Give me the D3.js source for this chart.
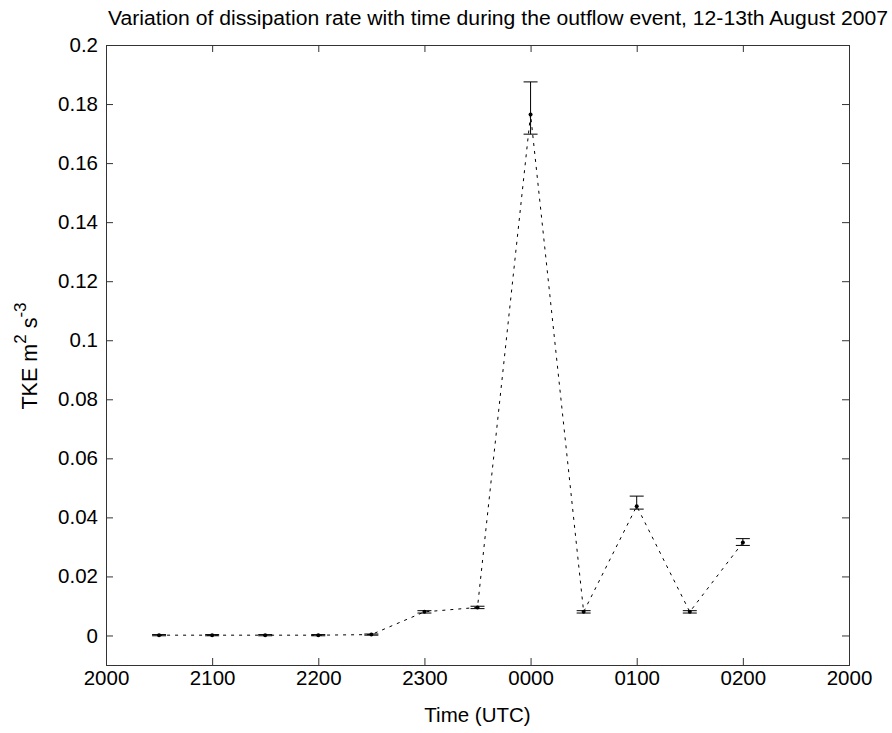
<!DOCTYPE html>
<html>
<head>
<meta charset="utf-8">
<script src="https://cdn.jsdelivr.net/npm/d3@7"></script>
<style>
  body { margin: 0; background: #fff; }
  text { font-family: "Liberation Sans", Arial, sans-serif; fill: #000; }
</style>
</head>
<body>
<svg id="chart"></svg>
<script>
// hours after 20:00 on 12 Aug (24 = 0000 next day)
const times = [20.5, 21, 21.5, 22, 22.5, 23, 23.5, 24, 24.5, 25, 25.5, 26];
const tke = [0.0001, 0.0001, 0.0001, 0.0001, 0.0003, 0.008, 0.0095, 0.1765, 0.008, 0.0438, 0.008, 0.0315];
const errLow = [0.0002, 0.0002, 0.0002, 0.0002, 0.0002, 0.0004, 0.0004, 0.0067, 0.0004, 0.0010, 0.0004, 0.0010];
const errHigh = [0.0002, 0.0002, 0.0002, 0.0002, 0.0002, 0.0004, 0.0004, 0.0110, 0.0004, 0.0034, 0.0004, 0.0013];
const xTickVals = [20, 21, 22, 23, 24, 25, 26, 27];
const xTickLabels = ['2000', '2100', '2200', '2300', '0000', '0100', '0200', '2000'];
const yTickVals = [0, 0.02, 0.04, 0.06, 0.08, 0.1, 0.12, 0.14, 0.16, 0.18, 0.2];

const W = 892, H = 733;
const margin = {top: 45, right: 43, bottom: 68, left: 106};
const width = W - margin.left - margin.right;
const height = H - margin.top - margin.bottom;
const fontSize = 20.5;

const svg = d3.select('#chart').attr('width', W).attr('height', H);
const chart = svg.append('g').attr('transform', `translate(${margin.left},${margin.top})`);

const x = d3.scaleLinear().domain([20, 27]).range([0, width]);
const y = d3.scaleLinear().domain([-0.01, 0.2]).range([height, 0]);

const data = times.map((t, i) => ({t, v: tke[i], lo: tke[i] - errLow[i], hi: tke[i] + errHigh[i]}));

// Axes, MATLAB style: inward ticks on all four sides
const tickLen = 7;
const xAxis = d3.axisBottom(x).tickValues(xTickVals).tickSize(-tickLen).tickPadding(5)
    .tickFormat((d, i) => xTickLabels[i]);
const xAxisTop = d3.axisTop(x).tickValues(xTickVals).tickSize(-tickLen).tickFormat('');
const yAxis = d3.axisLeft(y).tickValues(yTickVals).tickSize(-tickLen).tickPadding(8)
    .tickFormat(d => d === 0 ? '0' : String(+d.toFixed(2)));
const yAxisRight = d3.axisRight(y).tickValues(yTickVals).tickSize(-tickLen).tickFormat('');

chart.append('g').attr('transform', `translate(0,${height})`).call(xAxis);
chart.append('g').call(xAxisTop);
chart.append('g').call(yAxis);
chart.append('g').attr('transform', `translate(${width},0)`).call(yAxisRight);

chart.selectAll('.domain').attr('stroke', '#333').attr('stroke-width', 1);
chart.selectAll('.tick line').attr('stroke', '#333');
chart.selectAll('.tick text').attr('font-size', fontSize).attr('font-family', '"Liberation Sans", Arial, sans-serif');

// dotted line through points
chart.append('path')
    .datum(data)
    .attr('fill', 'none')
    .attr('stroke', '#000')
    .attr('stroke-width', 1)
    .attr('stroke-dasharray', '3,5')
    .attr('d', d3.line().x(d => x(d.t)).y(d => y(d.v)));

// error bars
const capW = 7;
const eb = chart.selectAll('.eb').data(data).join('g').attr('class', 'eb');
eb.append('line')
    .attr('x1', d => x(d.t)).attr('x2', d => x(d.t))
    .attr('y1', d => y(d.lo)).attr('y2', d => y(d.hi))
    .attr('stroke', '#000').attr('stroke-width', 1);
eb.append('line')
    .attr('x1', d => x(d.t) - capW).attr('x2', d => x(d.t) + capW)
    .attr('y1', d => y(d.lo)).attr('y2', d => y(d.lo))
    .attr('stroke', '#000').attr('stroke-width', 1);
eb.append('line')
    .attr('x1', d => x(d.t) - capW).attr('x2', d => x(d.t) + capW)
    .attr('y1', d => y(d.hi)).attr('y2', d => y(d.hi))
    .attr('stroke', '#000').attr('stroke-width', 1);

// markers
chart.selectAll('.pt').data(data).join('circle')
    .attr('class', 'pt')
    .attr('cx', d => x(d.t)).attr('cy', d => y(d.v))
    .attr('r', 2).attr('fill', '#000');

// title and labels
svg.append('text')
    .attr('x', 498).attr('y', 25)
    .attr('text-anchor', 'middle').attr('font-size', 20)
    .attr('textLength', 780).attr('lengthAdjust', 'spacingAndGlyphs')
    .text('Variation of dissipation rate with time during the outflow event, 12-13th August 2007');

svg.append('text')
    .attr('x', margin.left + width / 2).attr('y', 722)
    .attr('text-anchor', 'middle').attr('font-size', fontSize)
    .text('Time (UTC)');

const yl = svg.append('text')
    .attr('transform', `translate(37,356) rotate(-90)`)
    .attr('text-anchor', 'middle').attr('font-size', 21.5);
yl.append('tspan').text('TKE m');
yl.append('tspan').attr('dy', -11).attr('font-size', 17).text('2');
yl.append('tspan').attr('dy', 11).text(' s');
yl.append('tspan').attr('dy', -11).attr('font-size', 17).text('-3');
</script>
</body>
</html>
